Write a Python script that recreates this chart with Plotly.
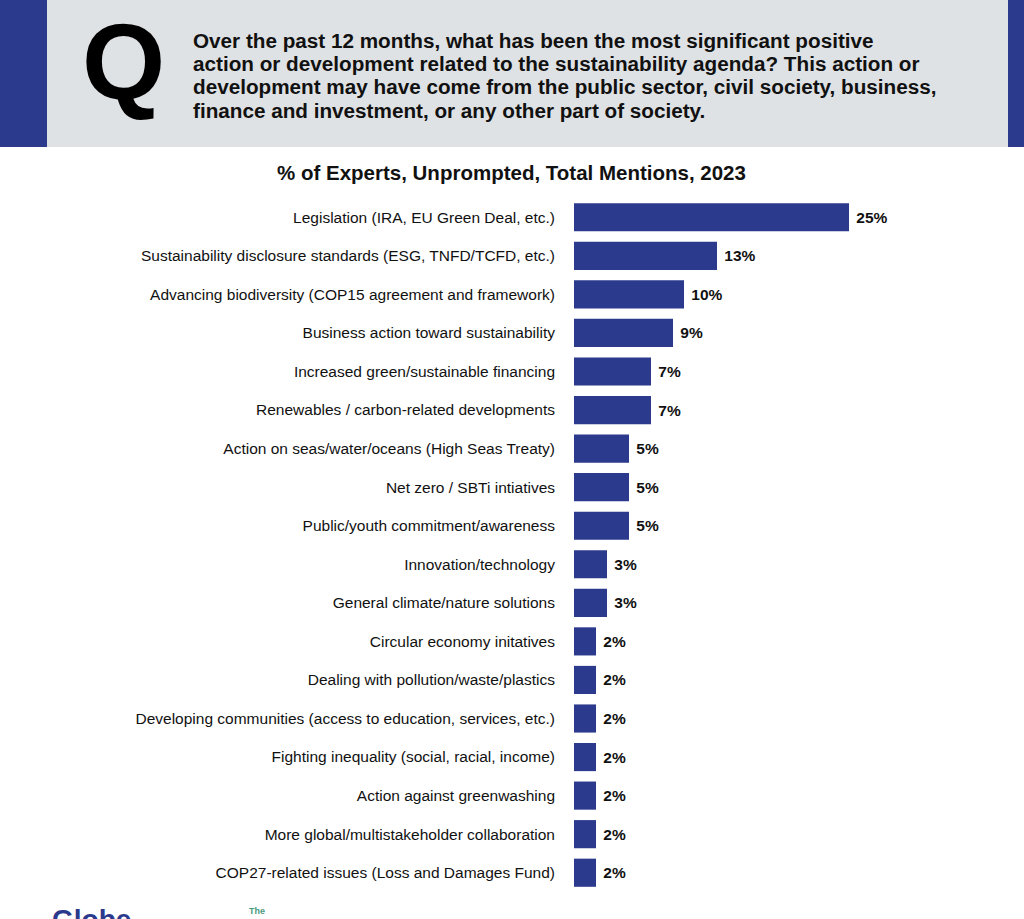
import plotly.graph_objects as go

categories = [
    "Legislation (IRA, EU Green Deal, etc.)",
    "Sustainability disclosure standards (ESG, TNFD/TCFD, etc.)",
    "Advancing biodiversity (COP15 agreement and framework)",
    "Business action toward sustainability",
    "Increased green/sustainable financing",
    "Renewables / carbon-related developments",
    "Action on seas/water/oceans (High Seas Treaty)",
    "Net zero / SBTi intiatives",
    "Public/youth commitment/awareness",
    "Innovation/technology",
    "General climate/nature solutions",
    "Circular economy initatives",
    "Dealing with pollution/waste/plastics",
    "Developing communities (access to education, services, etc.)",
    "Fighting inequality (social, racial, income)",
    "Action against greenwashing",
    "More global/multistakeholder collaboration",
    "COP27-related issues (Loss and Damages Fund)",
]
values = [25, 13, 10, 9, 7, 7, 5, 5, 5, 3, 3, 2, 2, 2, 2, 2, 2, 2]

title_text = "% of Experts, Unprompted, Total Mentions, 2023"
question_lines = [
    "Over the past 12 months, what has been the most significant positive",
    "action or development related to the sustainability agenda? This action or",
    "development may have come from the public sector, civil society, business,",
    "finance and investment, or any other part of society.",
]

BLUE = "#2b3a8c"
GRAY = "#dfe2e4"
FONT = "Liberation Sans, Arial, Helvetica, sans-serif"

W, H = 1024, 919
L, R, T, B = 574, 10, 198, 27
PW, PH = W - L - R, H - T - B


def px(x):
    return (x - L) / PW


def py(y):
    return (H - B - y) / PH


fig = go.Figure(go.Bar(
    x=values,
    y=categories,
    orientation="h",
    marker=dict(color=BLUE, line=dict(width=0)),
    text=[f"\u00a0<b>{v}%</b>" for v in values],
    textposition="outside",
    textfont=dict(family=FONT, size=15.5, color="#111111"),
    cliponaxis=False,
    hoverinfo="skip",
))

shapes = [
    dict(type="rect", xref="paper", yref="paper", x0=px(0), x1=px(W), y0=py(147), y1=py(0),
         fillcolor=GRAY, line=dict(width=0), layer="below"),
    dict(type="rect", xref="paper", yref="paper", x0=px(0), x1=px(47), y0=py(147), y1=py(0),
         fillcolor=BLUE, line=dict(width=0), layer="below"),
    dict(type="rect", xref="paper", yref="paper", x0=px(1008), x1=px(W), y0=py(147), y1=py(0),
         fillcolor=BLUE, line=dict(width=0), layer="below"),
]

annotations = [
    dict(text="<b>Q</b>", xref="paper", yref="paper", x=px(123), y=py(62), xanchor="center",
         yanchor="middle", showarrow=False, font=dict(family=FONT, size=107, color="#000000")),
    dict(text="<b>" + title_text + "</b>", xref="paper", yref="paper", x=px(511), y=py(172),
         xanchor="center", yanchor="middle", showarrow=False,
         font=dict(family=FONT, size=20.5, color="#111111")),
    dict(text="<b>Globe</b>", xref="paper", yref="paper", x=px(50), y=py(902),
         xanchor="left", yanchor="top", showarrow=False,
         font=dict(family=FONT, size=28, color="#2b3a8c")),
    dict(text="<b>The</b>", xref="paper", yref="paper", x=px(247), y=py(904),
         xanchor="left", yanchor="top", showarrow=False,
         font=dict(family=FONT, size=9, color="#4a9a80")),
]
for i, line in enumerate(question_lines):
    annotations.append(dict(
        text="<b>" + line + "</b>", xref="paper", yref="paper", x=px(191), y=py(40 + i * 23.4),
        xanchor="left", yanchor="middle", align="left", showarrow=False,
        font=dict(family=FONT, size=20.7, color="#111111")))

fig.update_layout(
    width=W, height=H,
    margin=dict(l=L, r=R, t=T, b=B),
    paper_bgcolor="white", plot_bgcolor="white",
    showlegend=False,
    bargap=0.27,
    shapes=shapes,
    annotations=annotations,
    font=dict(family=FONT, color="#111111"),
    xaxis=dict(range=[0, 40], visible=False, fixedrange=True),
    yaxis=dict(autorange="reversed", showgrid=False, zeroline=False, showline=False,
               ticks="", ticklabelstandoff=18,
               tickfont=dict(family=FONT, size=15.5, color="#111111"), fixedrange=True),
)

fig.write_html("out.html", config={"displayModeBar": False})
